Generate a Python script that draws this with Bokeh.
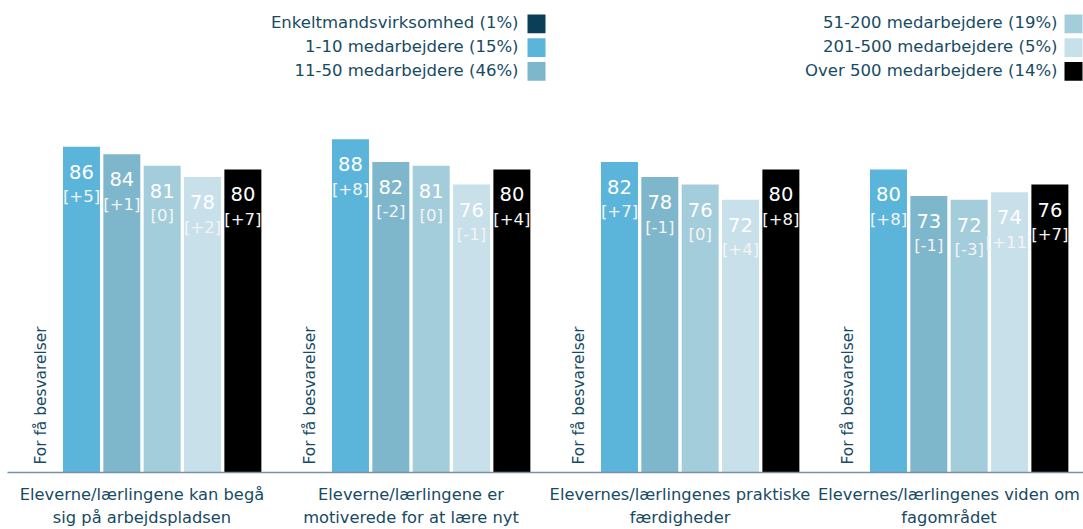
from math import pi
from bokeh.plotting import figure
from bokeh.models import ColumnDataSource, FixedTicker, Range1d, Label
from bokeh.transform import dodge
from bokeh.core.properties import value
from bokeh.embed import file_html
from bokeh.resources import INLINE

# ---------------- data ----------------
categories = [
    "Eleverne/lærlingene kan begå\nsig på arbejdspladsen",
    "Eleverne/lærlingene er\nmotiverede for at lære nyt",
    "Elevernes/lærlingenes praktiske\nfærdigheder",
    "Elevernes/lærlingenes viden om\nfagområdet",
]
series_names = [
    "Enkeltmandsvirksomhed (1%)",
    "1-10 medarbejdere (15%)",
    "11-50 medarbejdere (46%)",
    "51-200 medarbejdere (19%)",
    "201-500 medarbejdere (5%)",
    "Over 500 medarbejdere (14%)",
]
series_colors = ["#0b3f58", "#5bb5db", "#7eb6cb", "#a3cddb", "#c8e0ea", "#000000"]

# Enkeltmandsvirksomhed: too few responses (no bars)
vals_1_10 = [86, 88, 82, 80]
vals_11_50 = [84, 82, 78, 73]
vals_51_200 = [81, 81, 76, 72]
vals_201_500 = [78, 76, 72, 74]
vals_over500 = [80, 80, 80, 76]

diff_1_10 = [5, 8, 7, 8]
diff_11_50 = [1, -2, -1, -1]
diff_51_200 = [0, 0, 0, -3]
diff_201_500 = [2, -1, 4, 11]
diff_over500 = [7, 4, 8, 7]

too_few_text = "For få besvarelser"

bar_series = [
    (vals_1_10, diff_1_10, series_colors[1]),
    (vals_11_50, diff_11_50, series_colors[2]),
    (vals_51_200, diff_51_200, series_colors[3]),
    (vals_201_500, diff_201_500, series_colors[4]),
    (vals_over500, diff_over500, series_colors[5]),
]

# ---------------- layout constants ----------------
W, H = 1083, 529
LEFT = 7
FRAME_W = W - LEFT
BASE_Y = 476            # pixel row of baseline
PX_PER_UNIT = 3.82
Y_END = BASE_Y / PX_PER_UNIT
STEP = 0.150            # slot step (data units)
BAR_W = 0.1375
TEXT_COL = "#174b63"
FONT = "DejaVu Sans"

p = figure(width=W, height=H, output_backend="svg", toolbar_location=None,
           x_range=Range1d(-0.5, 3.5), y_range=Range1d(0, Y_END),
           y_axis_location=None, min_border_left=LEFT, min_border_right=0,
           min_border_top=0, min_border_bottom=H - BASE_Y)
p.outline_line_color = None
p.xgrid.visible = False
p.ygrid.visible = False
p.background_fill_color = "white"

xs = list(range(len(categories)))

def px_x(px):
    return (px - LEFT) / FRAME_W * 4 - 0.5

def px_y(py):
    return (BASE_Y - py) / PX_PER_UNIT

# bars + labels
for i, (vals, diffs, col) in enumerate(bar_series):
    off = (i + 1 - 2.5) * STEP
    src = ColumnDataSource(dict(
        x=xs, top=vals,
        vtxt=[str(v) for v in vals],
        dtxt=["[%+d]" % d if d != 0 else "[0]" for d in diffs],
    ))
    p.vbar(x=dodge("x", off, range=p.x_range), top="top", bottom=0, width=BAR_W,
           fill_color=col, line_color=None, source=src)
    p.text(x=dodge("x", off, range=p.x_range), y="top", text="vtxt", source=src,
           text_color="white", text_font=value(FONT), text_font_size="19.5px",
           text_align="center", text_baseline="middle", y_offset=25)
    p.text(x=dodge("x", off, range=p.x_range), y="top", text="dtxt", source=src,
           text_color="#f4f4f4", text_font=value(FONT), text_font_size="16.5px",
           text_align="center", text_baseline="middle", y_offset=50)

# "For få besvarelser" in the Enkeltmandsvirksomhed slot
src0 = ColumnDataSource(dict(x=xs, y=[0] * len(xs)))
p.text(x=dodge("x", -2.5 * STEP, range=p.x_range), y="y", text=value(too_few_text),
       source=src0, angle=pi / 2, text_color=TEXT_COL, text_font=value(FONT),
       text_font_size="15.4px", text_align="left", text_baseline="middle", y_offset=-8)

# legend (text right-aligned, swatch to the right)
legend_cols = [(518, 527, 545, series_names[0:3], series_colors[0:3]),
               (1057, 1064, 1082, series_names[3:6], series_colors[3:6])]
row_y = [23.5, 47.5, 71.5]
for tx, sx0, sx1, names, cols in legend_cols:
    for ry, name, col in zip(row_y, names, cols):
        p.quad(left=px_x(sx0), right=px_x(sx1), top=px_y(ry - 9.5), bottom=px_y(ry + 9.5),
               fill_color=col, line_color=None)
        p.add_layout(Label(x=px_x(tx), y=px_y(ry - 1), text=name, text_align="right",
                           text_baseline="middle", text_color=TEXT_COL,
                           text_font=FONT, text_font_size="16.5px"))

# x axis
ax = p.xaxis[0]
ax.ticker = FixedTicker(ticks=xs)
ax.major_label_overrides = {i: c for i, c in enumerate(categories)}
ax.major_tick_line_color = None
ax.minor_tick_line_color = None
ax.major_tick_out = 0
ax.major_tick_in = 0
ax.major_label_standoff = 12
ax.axis_line_color = "#7a90a4"
ax.axis_line_width = 1.5
ax.major_label_text_color = TEXT_COL
ax.major_label_text_font = FONT
ax.major_label_text_font_size = "16.3px"
ax.major_label_text_line_height = 1.22

open("out.html", "w").write(file_html(p, INLINE))
